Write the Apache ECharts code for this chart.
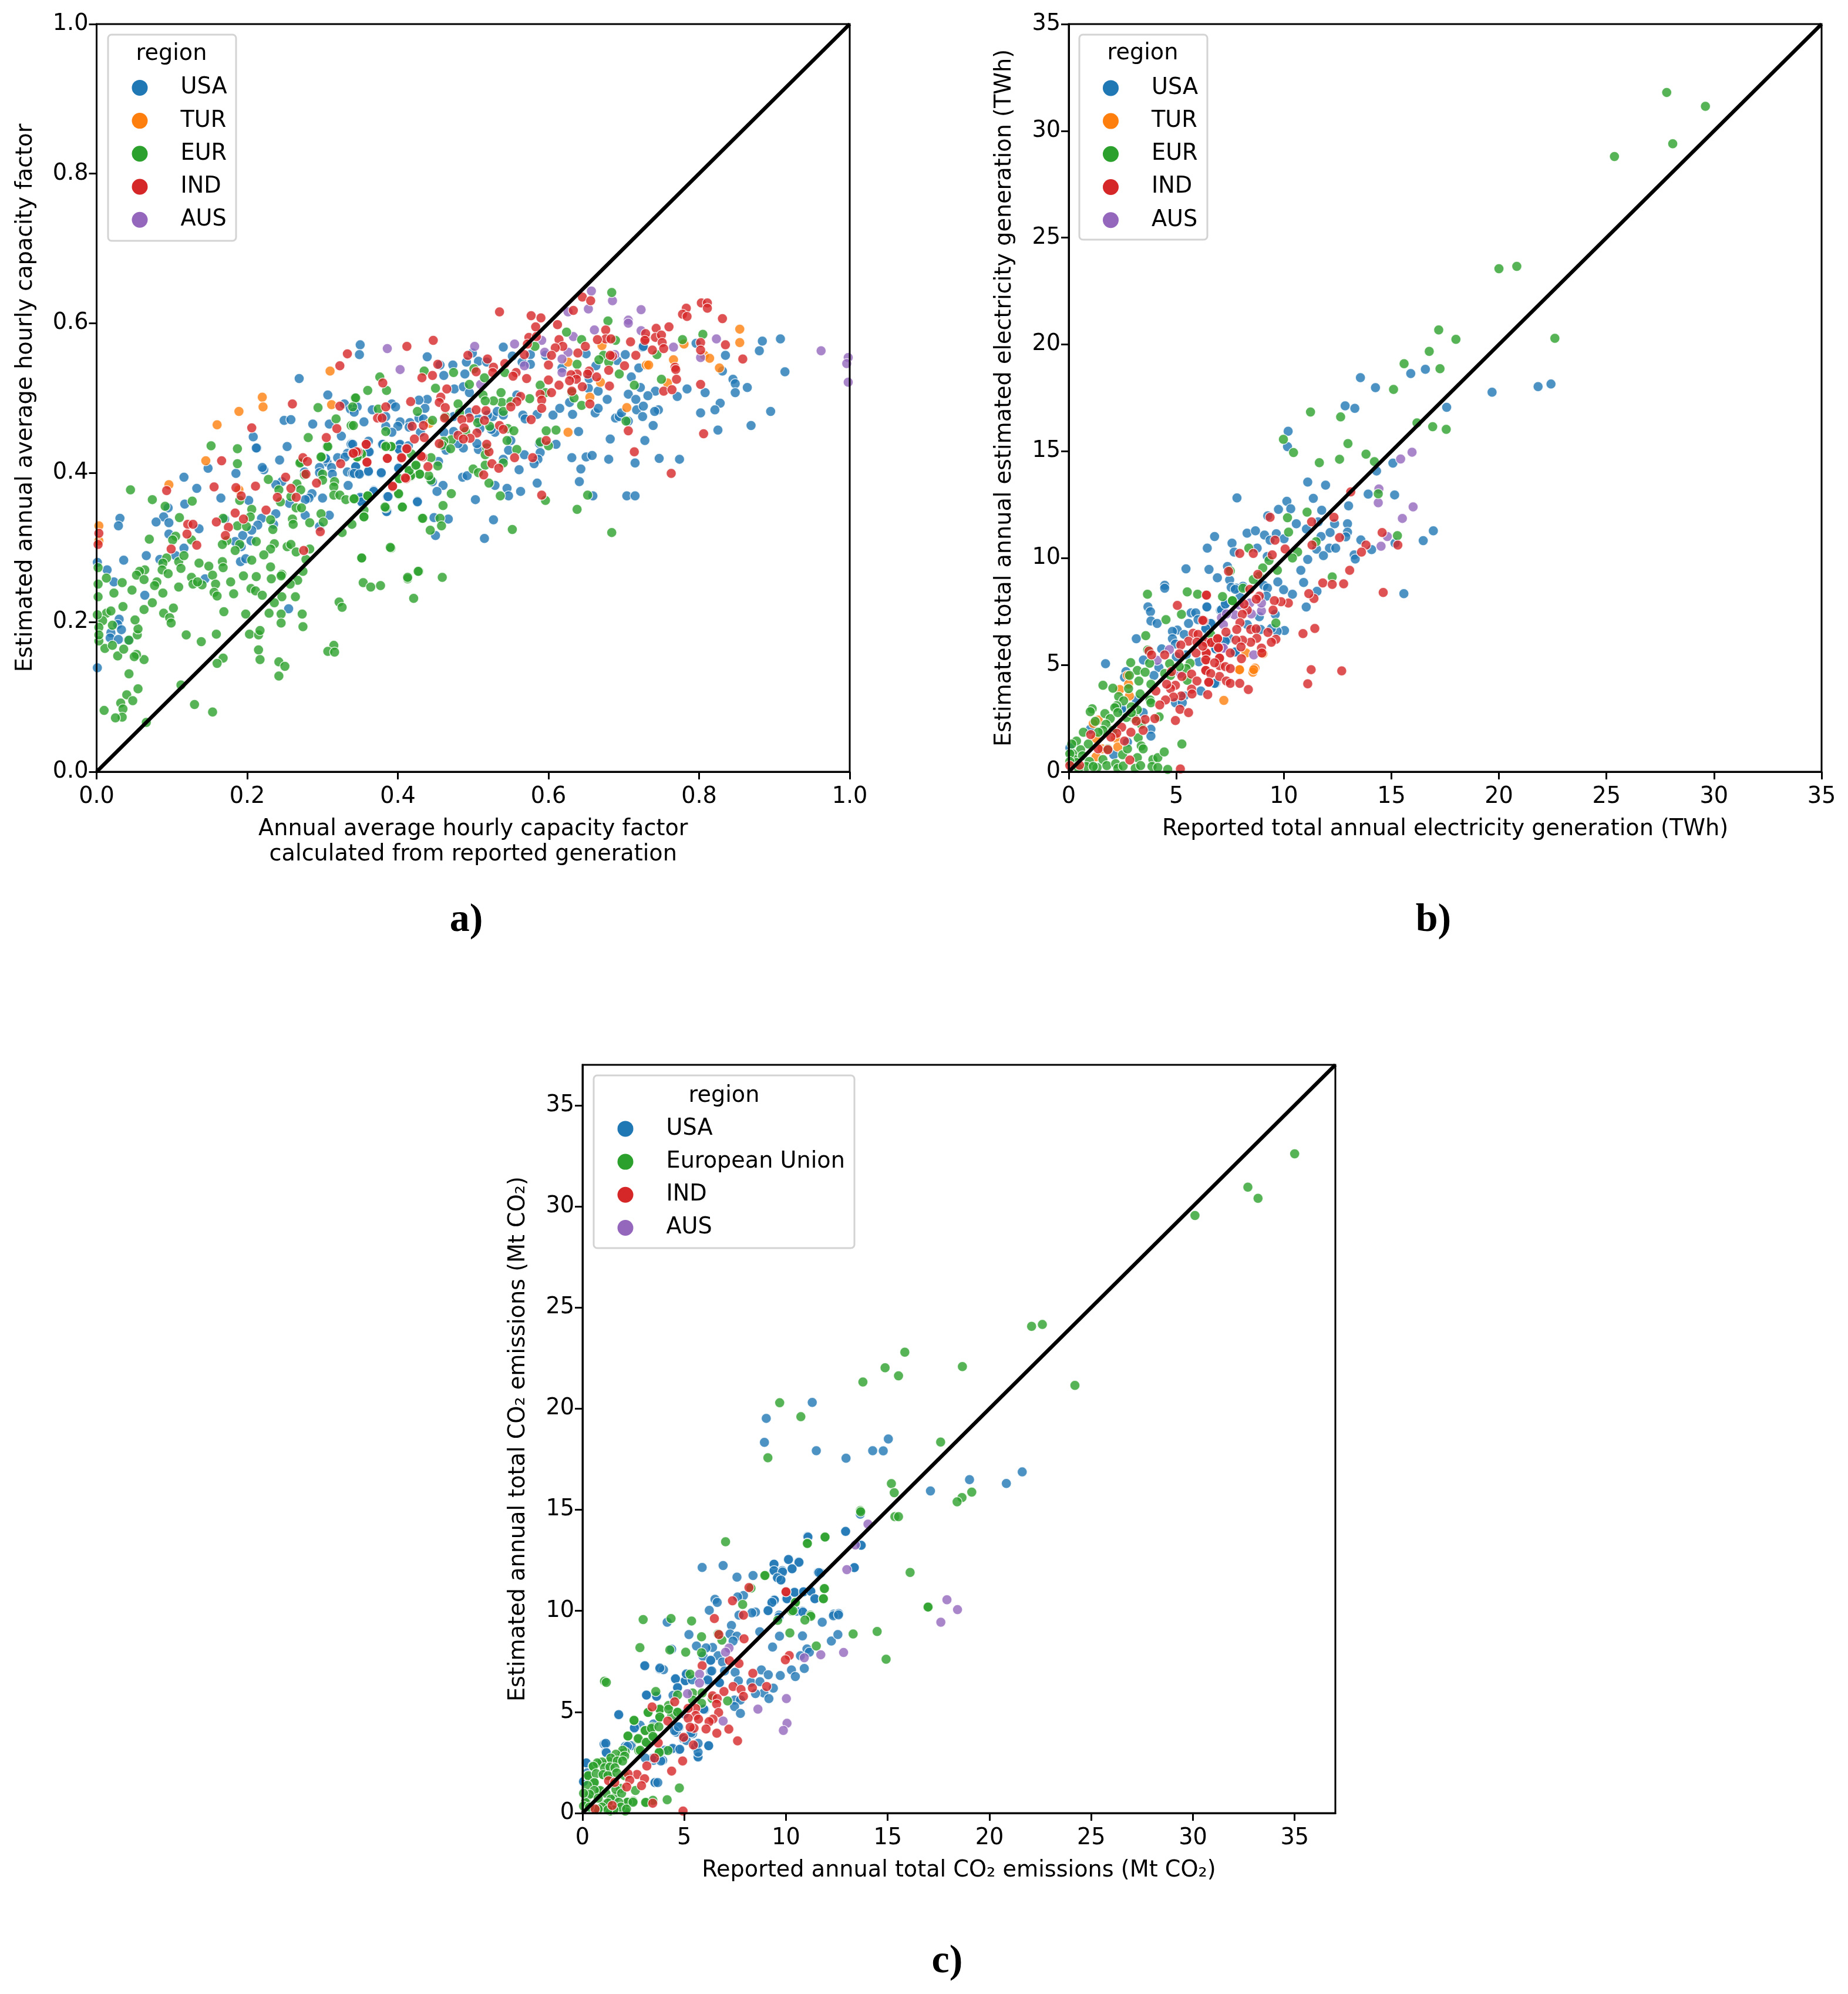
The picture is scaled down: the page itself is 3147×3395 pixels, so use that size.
<!DOCTYPE html>
<html><head><meta charset="utf-8">
<style>html,body{margin:0;padding:0;background:#fff}#c{width:3147px;height:3395px}</style>
<script src="https://cdn.jsdelivr.net/npm/echarts@6/dist/echarts.min.js"></script>
</head><body><div id="c"></div>
<script>
const regionsAB=['USA','TUR','EUR','IND','AUS'];
const regionsC=['USA','European Union','IND','AUS'];
const ticksA=[0,0.2,0.4,0.6,0.8,1.0];
const ticksB=[0,5,10,15,20,25,30,35];
const ticksC=[0,5,10,15,20,25,30,35];
const diagA=[[0,0],[1,1]];
const diagB=[[0,0],[35,35]];
const diagC=[[0,0],[37,37]];
const aUSA=[[.213,.433],[.253,.435],[.338,.439],[.243,.417],[.148,.406],[.185,.399],[.222,.404],[.116,.394],[.133,.379],[.165,.366],[.202,.363],[.117,.358],[.095,.353],[.089,.341],[.031,.339],[.029,.329],[.079,.334],[.096,.333],[.136,.325],[.096,.318],[.17,.338],[.238,.345],[.219,.339],[.214,.33],[.206,.323],[.235,.331],[.194,.316],[.184,.308],[.205,.309],[.192,.301],[.246,.388],[.238,.384],[.256,.359],[.277,.343],[.286,.372],[.282,.366],[.277,.364],[.3,.366],[.309,.343],[.296,.328],[.305,.418],[.306,.414],[.296,.407],[.312,.407],[.32,.42],[.313,.398],[.296,.4],[.276,.401],[.333,.401],[.344,.408],[.34,.399],[.348,.399],[.361,.401],[.378,.399],[.334,.383],[.333,.426],[.361,.428],[.379,.438],[.402,.437],[.401,.432],[.351,.365],[.352,.36],[.368,.376],[.386,.368],[.426,.362],[.386,.348],[.401,.407],[.116,.299],[.105,.289],[.066,.289],[.036,.283],[.084,.284],[.014,.27],[.001,.28],[.023,.254],[.144,.258],[.191,.281],[.198,.285],[.064,.236],[.255,.218],[.03,.204],[.028,.197],[.033,.19],[.019,.186],[.018,.179],[.029,.177],[.042,.176],[.001,.139],
[.269,.526],[.307,.504],[.208,.448],[.212,.433],[.249,.47],[.258,.471],[.287,.465],[.309,.465],[.325,.449],[.329,.492],[.337,.485],[.338,.438],[.33,.421],[.304,.419],[.22,.407],
[.35,.571],[.349,.558],[.439,.555],[.54,.568],[.499,.56],[.491,.548],[.507,.549],[.518,.548],[.473,.544],[.461,.53],[.489,.532],[.456,.544],[.552,.556],[.576,.558],[.565,.548],[.576,.545],[.475,.512],[.487,.515],[.495,.507],[.439,.498],[.428,.497],[.436,.486],[.392,.492],[.366,.484],[.397,.488],[.346,.488],[.342,.481],[.355,.468],[.384,.475],[.403,.468],[.4,.462],[.416,.467],[.415,.461],[.428,.473],[.434,.472],[.384,.462],[.392,.454],[.43,.454],[.361,.442],[.362,.428],[.38,.438],[.403,.438],[.414,.436],[.402,.431],[.34,.438],[.344,.408],[.342,.399],[.349,.398],[.361,.402],[.378,.4],[.454,.415],[.401,.406],[.368,.375],[.35,.367],[.352,.361],[.387,.368],[.426,.361],[.385,.348],[.446,.388],[.46,.383],[.452,.375],[.448,.34],[.467,.338],[.45,.316],[.527,.337],[.503,.364],[.515,.312],[.529,.383],[.545,.379],[.547,.369],[.563,.375],[.585,.386],[.641,.388],[.659,.369],[.704,.369],[.715,.369],[.486,.394],[.492,.396],[.561,.404],[.643,.405],[.631,.42],[.65,.421],[.658,.423],[.68,.418],[.715,.413],[.728,.443],[.682,.445],[.64,.455],[.61,.438],[.588,.439],[.589,.427],[.586,.418],[.581,.412],[.568,.424],[.54,.418],[.547,.43],[.55,.443],[.507,.431],[.487,.433],[.505,.439],[.48,.439],[.464,.43],[.474,.455],[.461,.454],[.509,.459],[.529,.454],[.524,.458],[.507,.472],[.526,.475],[.519,.477],[.532,.482],[.54,.477],[.495,.481],[.474,.475],[.566,.477],[.569,.472],[.585,.478],[.606,.477],[.615,.486],[.632,.478],[.628,.494],[.662,.48],[.666,.486],[.689,.473],[.694,.475],[.697,.48],[.706,.469],[.706,.505],[.716,.498],[.717,.484],[.725,.475],[.726,.489],[.678,.498],[.666,.509],[.653,.513],[.654,.526],[.663,.543],[.71,.528],[.722,.514],[.72,.54],[.702,.558],[.691,.55],[.725,.568],[.65,.559],[.596,.557],[.618,.54],[.558,.504],
[.796,.573],[.835,.557],[.88,.563],[.884,.576],[.908,.579],[.914,.535],[.845,.525],[.848,.519],[.864,.514],[.848,.507],[.784,.512],[.808,.507],[.771,.502],[.828,.493],[.821,.484],[.802,.48],[.895,.482],[.869,.463],[.825,.457],[.742,.509],[.732,.503],[.746,.484],[.741,.482],[.739,.463],[.747,.419],[.774,.418],[.726,.569],[.831,.536]];
const aTUR=[[.145,.416],[.096,.384],[.189,.377],[.003,.329],[.003,.309],[.16,.464],[.189,.482],[.22,.501],[.221,.488],[.31,.536],[.312,.491],[.671,.57],[.626,.548],[.669,.521],[.655,.501],[.704,.487],[.626,.454],[.442,.466],[.73,.544],[.733,.544],[.766,.551],[.78,.572],[.758,.52],[.807,.557],[.814,.553],[.827,.54],[.854,.592],[.854,.574]];
const aEUR=[[.152,.436],[.187,.432],[.187,.412],[.045,.377],[.074,.364],[.127,.362],[.091,.355],[.11,.34],[.07,.311],[.105,.315],[.101,.31],[.126,.31],[.168,.339],[.187,.329],[.199,.328],[.206,.351],[.204,.341],[.19,.363],[.173,.309],[.167,.304],[.19,.304],[.184,.296],[.212,.308],[.228,.391],[.242,.377],[.244,.361],[.231,.337],[.234,.324],[.26,.338],[.261,.331],[.236,.305],[.231,.298],[.222,.29],[.253,.301],[.258,.304],[.265,.294],[.283,.298],[.278,.284],[.258,.368],[.266,.385],[.271,.377],[.265,.353],[.272,.353],[.271,.414],[.276,.397],[.299,.421],[.306,.435],[.3,.398],[.3,.39],[.316,.388],[.315,.381],[.315,.37],[.323,.37],[.331,.364],[.341,.365],[.36,.369],[.283,.333],[.298,.345],[.301,.334],[.339,.331],[.355,.35],[.355,.341],[.326,.32],[.391,.435],[.384,.436],[.351,.426],[.347,.421],[.384,.353],[.401,.371],[.406,.354],[.432,.339],[.391,.299],[.352,.286],[.415,.402],[.424,.409],[.429,.398],[.402,.392],[.417,.395],
[.136,.279],[.149,.275],[.167,.281],[.168,.273],[.093,.286],[.088,.279],[.109,.281],[.112,.272],[.116,.289],[.087,.27],[.095,.265],[.064,.27],[.057,.268],[.053,.263],[.063,.257],[.013,.259],[.034,.253],[.08,.254],[.077,.249],[.047,.243],[.023,.239],[.088,.239],[.109,.247],[.126,.26],[.128,.251],[.14,.25],[.134,.254],[.154,.263],[.158,.251],[.156,.24],[.16,.235],[.178,.254],[.195,.262],[.182,.238],[.212,.261],[.232,.258],[.206,.283],[.231,.274],[.246,.264],[.245,.262],[.205,.245],[.211,.242],[.22,.236],[.274,.268],[.267,.256],[.257,.251],[.246,.234],[.264,.234],[.236,.226],[.229,.212],[.245,.211],[.198,.211],[.169,.214],[.273,.211],[.245,.199],[.274,.194],[.354,.253],[.364,.247],[.377,.249],[.413,.258],[.428,.268],[.421,.232],[.322,.227],[.326,.22],[.315,.169],[.307,.161],[.316,.16],[.242,.147],[.25,.141],[.242,.128],[.215,.163],[.217,.15],[.203,.184],[.215,.183],[.217,.189],[.159,.184],[.119,.183],[.139,.174],[.168,.152],[.16,.145],[.112,.116],[.13,.09],[.154,.08],[.066,.066],[.055,.111],[.04,.103],[.048,.095],[.032,.092],[.035,.084],[.034,.073],[.025,.072],[.01,.082],[.043,.131],[.063,.15],[.053,.157],[.05,.154],[.028,.155],[.036,.164],[.011,.165],[.021,.169],[.043,.176],[.054,.183],[.055,.191],[.051,.203],[.063,.217],[.074,.226],[.089,.212],[.102,.219],[.097,.206],[.099,.199],[.035,.221],[.013,.212],[.019,.215],[.008,.202],[.021,.196],[.003,.193],[.001,.21],[.002,.234],[.002,.251],[.002,.273],[.003,.175],[.003,.183],
[.281,.447],[.294,.487],[.307,.435],[.298,.421],[.318,.472],[.338,.463],[.343,.5],[.27,.413],
[.684,.641],[.679,.603],[.624,.588],[.644,.578],[.689,.577],[.582,.569],[.673,.557],[.667,.551],[.68,.548],[.638,.545],[.694,.532],[.714,.517],[.589,.517],[.596,.507],[.631,.507],[.634,.5],[.644,.49],[.575,.499],[.537,.507],[.538,.494],[.527,.496],[.55,.495],[.54,.482],[.703,.469],[.61,.457],[.597,.456],[.589,.441],[.6,.436],[.558,.431],[.546,.459],[.554,.456],[.545,.443],[.522,.462],[.506,.467],[.49,.455],[.471,.444],[.461,.442],[.459,.437],[.47,.432],[.518,.433],[.516,.424],[.516,.41],[.54,.413],[.5,.405],[.507,.4],[.521,.386],[.536,.369],[.471,.372],[.46,.356],[.652,.37],[.596,.363],[.638,.351],[.456,.339],[.458,.329],[.443,.323],[.433,.339],[.552,.324],[.684,.32],[.39,.3],[.352,.286],[.427,.268],[.413,.26],[.459,.26],[.406,.354],[.383,.354],[.355,.341],[.401,.372],[.36,.369],[.342,.365],[.444,.39],[.441,.396],[.429,.398],[.417,.396],[.402,.392],[.415,.403],[.424,.41],[.453,.409],[.444,.42],[.418,.425],[.391,.435],[.384,.435],[.352,.425],[.346,.421],[.384,.455],[.446,.47],[.463,.475],[.501,.539],[.474,.534],[.435,.536],[.45,.513],[.495,.518],[.515,.527],[.542,.534],[.376,.528],[.385,.51],[.36,.51],[.344,.5],[.34,.488],[.426,.482],[.374,.485],[.48,.492],[.482,.48],[.513,.504],[.516,.496],[.341,.463],
[.778,.578],[.805,.585],[.744,.558],[.75,.525]];
const aIND=[[.166,.416],[.093,.376],[.156,.381],[.211,.382],[.185,.38],[.192,.369],[.274,.42],[.28,.415],[.251,.394],[.258,.379],[.292,.386],[.278,.398],[.24,.367],[.265,.367],[.324,.412],[.34,.426],[.347,.428],[.358,.438],[.359,.414],[.386,.419],[.405,.419],[.411,.432],[.433,.421],[.411,.392],[.393,.381],[.225,.35],[.184,.346],[.195,.338],[.159,.334],[.175,.327],[.171,.316],[.121,.331],[.128,.331],[.12,.318],[.133,.303],[.099,.298],[.297,.321],[.275,.296],[.003,.319],[.002,.304],
[.206,.46],[.26,.492],[.305,.447],[.319,.459],[.323,.543],[.333,.559],[.323,.489],
[.535,.615],[.577,.61],[.59,.607],[.583,.595],[.612,.598],[.574,.581],[.584,.582],[.572,.572],[.568,.558],[.645,.635],[.656,.63],[.633,.617],[.447,.577],[.412,.569],[.493,.557],[.519,.552],[.453,.545],[.504,.535],[.446,.53],[.432,.527],[.527,.541],[.542,.546],[.526,.534],[.557,.534],[.553,.529],[.571,.526],[.614,.578],[.619,.569],[.609,.567],[.649,.569],[.604,.557],[.639,.56],[.6,.544],[.6,.524],[.614,.517],[.638,.532],[.63,.531],[.637,.525],[.628,.523],[.654,.536],[.652,.532],[.664,.528],[.645,.515],[.681,.516],[.68,.537],[.701,.543],[.716,.557],[.709,.575],[.729,.579],[.676,.591],[.676,.579],[.683,.579],[.665,.578],[.685,.556],[.682,.557],[.589,.505],[.604,.507],[.591,.497],[.591,.486],[.631,.509],[.655,.492],[.563,.502],[.558,.495],[.55,.488],[.465,.512],[.457,.501],[.455,.494],[.463,.487],[.417,.495],[.384,.488],[.38,.52],[.373,.473],[.379,.473],[.419,.462],[.434,.463],[.435,.447],[.422,.445],[.462,.473],[.504,.484],[.517,.483],[.495,.473],[.485,.471],[.515,.47],[.535,.463],[.488,.46],[.505,.453],[.48,.45],[.496,.446],[.487,.445],[.455,.439],[.54,.458],[.577,.471],[.597,.443],[.579,.42],[.555,.42],[.358,.438],[.345,.428],[.341,.426],[.359,.414],[.386,.419],[.405,.42],[.412,.432],[.431,.422],[.44,.408],[.41,.393],[.393,.382],[.521,.428],[.518,.438],[.525,.412],[.534,.406],[.514,.397],[.591,.37],[.714,.428],[.706,.456],
[.783,.62],[.778,.612],[.784,.609],[.803,.627],[.811,.627],[.811,.62],[.831,.606],[.835,.571],[.858,.552],[.802,.574],[.802,.564],[.743,.593],[.76,.595],[.729,.586],[.728,.577],[.742,.581],[.75,.584],[.738,.564],[.751,.574],[.753,.566],[.768,.541],[.769,.538],[.77,.525],[.753,.509],[.764,.511],[.802,.518],[.806,.452],[.763,.399]];
const aAUS=[[.657,.643],[.685,.63],[.653,.619],[.626,.615],[.723,.618],[.706,.604],[.706,.6],[.661,.591],[.633,.582],[.723,.59],[.591,.577],[.555,.572],[.502,.569],[.386,.566],[.403,.538],[.51,.518],[.595,.561],[.626,.561],[.618,.552],[.618,.534],[.568,.543],[.688,.558],[.962,.563],[.998,.554],[.996,.546],[.998,.521],[.766,.568],[.823,.579],[.802,.554]];

const bUSA=[[16.58,18.84],[15.9,18.64],[13.56,18.45],[14.26,17.98],[19.68,17.77],[21.82,18.03],[22.42,18.15],[12.85,17.13],[13.3,17.01],[17.57,17.06],[10.2,15.94],[10.17,15.22],[15.07,14.45],[14.31,14.08],[11.11,13.56],[11.94,13.42],[7.82,12.82],[11.37,12.8],[10.14,12.66],[13.92,13],[15.15,12.96],[13.01,12.45],[9.75,12.28],[10.32,12.31],[11.76,12.24],[9.25,11.98],[10.58,11.61],[11.6,11.7],[11.05,11.36],[12.36,11.61],[12.96,11.61],[12.96,11.22],[16.95,11.28],[16.48,10.82],[6.78,11.01],[8.29,11.17],[8.68,11.28],[9.1,11.08],[9.36,10.84],[9.65,11.14],[10.01,10.91],[11.73,11.01],[12.15,11.2],[12.88,11],[13.58,10.85],[15.17,10.7],[7.59,10.7],[6.44,10.47],[8.76,10.47],[7.69,10.28],[9.23,10.08],[12.12,10.47],[12.41,10.47],[11.52,10.42],[11.84,10.12],[13.27,10.15],[13.32,9.96],[14.08,10.4],[11.11,9.94],[5.45,9.5],[6.52,9.47],[10.79,9.43],[7.38,9.61],[6.91,9.08],[7.48,8.98],[9.72,8.89],[10.92,8.86],[4.46,8.73],
[15.58,8.34],[11.54,8.45],[10.4,8.31],[9.99,8.52],[11.04,7.71],[9.07,8.72],[9.24,8.6],[8.1,8.68],[7.78,8.6],[7.55,8.63],[7.96,8.17],[7.3,7.88],[7.05,7.56],[6.43,7.7],[10.03,6.61],[9.69,6.57],[9.42,6.71],[9.19,8.22],[8.86,7.26],[9.6,7.37],[8.92,6.66],[8.3,6.89],[7.28,6.14],[6.83,5.77],[7.72,5.59],[6.83,4.14],[6.64,6.94],[6.37,6.66],[7.46,6.25],
[4.46,8.59],[3.68,7.72],[3.8,7.49],[6.42,7.72],[3.82,7.06],[4.11,6.94],[3.14,6.23],[5.69,7.44],[5.9,7.44],[5.57,6.94],[6.01,7.12],[6.6,6.94],[5.05,6.63],[4.82,6.57],[5.37,6.43],[4.82,6.23],[4.96,5.98],[6.37,6.71],[7.1,7.58],[7.28,7.85],[7.74,8.54],[7.28,6.11],[6.83,5.75],[4.32,5.75],[5,5.38],[3.47,5.23],[1.71,5.06],[4.19,4.88],[3.96,4.51],[2.66,4.69],[2.59,4.42],[6.05,5.15],[6.14,3.78],[6.78,4.14],[5.37,3.55],[4.96,3.23],[5.28,3.23],[3.82,1.99],[3.82,1.67],[3.14,3.36],[3.46,2.77],[2.55,2.81],[2.73,1.39],[1,1.99],[.05,1.12],[2.09,.8],[2.46,2.95],[5.46,5.47],[7.74,5.61]];
const bTUR=[[8.24,5.56],[9.03,5.53],[7.95,4.77],[8.66,4.85],[8.56,4.66],[7.94,4.78],[8.6,4.78],[7.21,3.34],[1.37,2.42],[1.14,2.26],[1.26,1.56],[2.18,1.58],[2.28,1.16],[1.55,1.07],[1.27,.7],[2.73,4.51],[2.78,4.1],[2.37,3.85],[2.82,3.55]];
const bEUR=[[27.8,31.8],[29.6,31.15],[28.08,29.4],[25.37,28.8],[20,23.55],[20.83,23.66],[17.2,20.68],[18,20.24],[22.6,20.29],[16.76,19.68],[15.59,19.1],[17.26,18.87],[15.1,17.9],[11.24,16.84],[12.64,16.61],[16.19,16.33],[16.92,16.15],[17.55,16.03],[9.98,15.56],[10.45,14.94],[12.98,15.36],[13.82,14.87],[14.21,14.52],[12.59,14.63],[11.65,14.47],[14.39,13.01],[11.08,12.15],[10.17,11.89],[10.22,11.22],[11.5,10.77],[15.28,11.05],[10.64,10.29],[8.37,10.47],[9.31,9.89],[10.4,10.01],[9.7,9.43],[9.02,9.54],[7.51,9.4],[8.86,9.15],[8.58,9],[12.25,9.12],[9.63,6.96],[7.6,8.01],[7.15,8.2],[6.6,6.43],[8.1,8.59],
[3.66,8.31],[5.51,8.42],[5.99,8.31],[7.61,8.01],[5.24,7.37],[4.52,7.12],[3.58,6.37],[3.67,5.7],[2.88,5.11],[3.76,5.08],[4.69,5.06],[5.64,5.08],[3.19,4.74],[3.55,4.66],[3.26,4.25],[2.82,4.51],[3.82,4.1],[1.59,4.05],[2.05,3.91],[2.78,3.89],[2.32,3.52],[2.55,3.32],[2.23,3.09],[2.14,3],[3.32,3.64],[3.78,3.36],[3.82,3.23],[3.19,2.9],[2.91,3.04],[4.46,4.6],[4.73,4.51],[5.51,4.28],[5.46,4.83],[5.14,4.92],[1.09,2.95],[1,2.81],[1.68,2.72],[1.93,2.49],[1.23,2.36],[1.73,2.22],[1.59,1.94],[3.05,2.49],[2.68,2.54],[3.37,2.22],[4.2,2.57],[.68,1.85],[.36,1.44],[.91,1.3],[.55,1.03],[.18,.84],[.27,.57],[.05,.84],[.64,.75],[.96,.48],[1.59,.57],[.82,.25],[1.32,.2],[1.77,.29],[2.18,.38],[2.28,.16],[2.53,.27],[2.5,.8],[2.73,1.07],[3.23,1.59],[3.37,1.21],[3.46,1.07],[3.19,.66],[3.09,.16],[3.34,.29],[3.91,.57],[4.14,.66],[4.44,.93],[3.87,.25],[4.14,.2],[5.26,1.3],[4.6,.11],[1.82,1.07],[1.37,1.85],[.36,.43],[.14,1.3],[.05,.48],[.46,.16],[1.14,.25],[2.05,1.94],[2.91,2.77],[2.28,2.77]];
const bIND=[[13.11,13.1],[12.33,11.91],[9.36,11.91],[11.29,11.7],[14.57,11.2],[12.59,10.96],[9.59,10.84],[11.31,10.61],[13.82,10.61],[15.3,10.61],[10.06,10.43],[13.61,10.28],[7.95,10.22],[8.58,10.22],[9.46,10.15],[13.06,9.43],[7.43,9.38],[8.79,9.24],[11.81,8.84],[12.25,8.77],[12.78,8.8],
[14.62,8.39],[11.4,8.11],[11.16,8.34],[10.21,7.9],[9.87,7.96],[9.56,8.01],[8.86,8.22],[8.72,8.08],[9.5,7.57],[8.42,8.54],[8.3,7.57],[8.15,7.85],[8.07,7.37],[11.44,6.71],[10.89,6.47],[7.96,6.98],[7.31,6.54],[7.81,6.66],[8.46,6.66],[8.71,6.69],[9.26,6.52],[9.63,6.2],[9.42,6.06],[8.74,6.25],[8.46,6.06],[8.08,6.16],[7.78,6.16],[8.96,5.79],[8.01,5.84],[7.51,5.56],[6.96,5.79],[6.64,6.06],[6.92,6.25],[6.37,6.06],[6.42,5.56],[6.42,5.24],[7.01,5.31],[8.03,5.29],[7.01,4.97],[7.28,4.92],[7.51,4.83],[6.37,4.74],[7.01,4.46],[7.33,4.25],[7.51,4.14],[7.95,4.14],[8.35,3.85],[6.51,4.19],[8.98,5.56],[6.28,7.07],[11.27,4.78],[12.69,4.72],[11.11,4.12],[6.42,8.26],
[6.4,8.27],[5.05,7.79],[6.23,7.09],[5.78,6.48],[6.01,6.43],[5.57,6.11],[5.21,5.93],[5.96,6.07],[6.62,6.05],[6.92,6.23],[5.14,5.52],[5.92,5.56],[6.96,5.81],[6.39,5.56],[6.23,5.88],[3.73,5.65],[3.85,5.47],[4.46,5.47],[7.01,5.32],[6.37,5.24],[6.78,5.1],[6.37,4.74],[6.6,4.6],[5.71,4.57],[5.26,4.46],[5.96,4.25],[6.51,4.19],[4.96,4.05],[4.73,3.89],[4.55,4.1],[5.71,3.87],[5.73,3.64],[6.46,3.61],[5.23,3.55],[4.87,3.5],[4.5,3.36],[4.05,3.78],[4.23,3.13],[5.17,2.92],[5.57,2.77],[4.96,2.4],[4,2.49],[3.55,2.45],[3.14,2.37],[2.46,2.08],[2.23,1.8],[2.89,1.85],[2.59,1.44],[1.96,1.62],[1.02,1.74],[1.37,1.07],[1.82,1.03],[2.84,.55],[.5,.31],[5.19,.13],[.05,.29],[3.46,1.94],[4.78,4.69]];
const bAUS=[[15.96,14.96],[15.43,14.64],[14.42,13.24],[14.39,12.59],[16.01,12.4],[15.51,11.86],[14.81,11.01],[14.52,10.56],[8.96,7.53],[8.42,7.9],[8.96,7.9],[8.49,7.39],[7.71,7.35],[7.1,7.21],[7.19,6.89],[7.33,7.39],[8.6,5.47],[7.14,5.79],[7.92,7.81],[4.68,5.72],[4.11,5.22],[5.19,4.6],[7.19,5.79]];

const cUSA=[[11.29,20.31],[9.03,19.52],[8.94,18.33],[15.03,18.5],[11.49,17.92],[14.26,17.92],[14.78,17.91],[12.95,17.55],[21.61,16.87],[20.83,16.3],[19.02,16.49],[17.1,15.93],[13.65,14.78],[11.06,13.68],[12.93,13.91],[13.68,13.25],[13.35,12.14],[10.14,12.55],[10.62,12.42],[9.42,12.31],[10.3,12.09],[9.42,12],[9.82,11.99],[11.58,11.9],[11.71,11.87],[9.56,11.65],[9.76,11.51],[10.41,10.9],[10.86,10.95],[11.23,10.95],[10.02,10.59],[11.41,10.61],[9.42,10.56],[9.29,10.4],[9.1,10.02],[10.81,9.98],[10.52,9.98],[12.35,9.84],[12.59,9.87],[9.66,9.79],
[11.08,13.65],[12.93,13.93],[13.7,13.24],[5.88,12.15],[6.91,12.24],[7.59,11.67],[8.38,11.75],[9.41,12.31],[10.12,12.54],[10.64,12.4],[9.41,11.99],[9.83,11.92],[10.3,12.08],[11.62,11.89],[13.36,12.14],[9.58,11.64],[9.75,11.53],[7.91,10.76],[7.62,10.69],[6.51,10.57],[6.62,10.42],[9.43,10.53],[9.31,10.42],[10.42,10.92],[10.86,10.94],[11.22,10.97],[11.42,10.6],[10.05,10.6],[6.23,10.03],[8.5,9.94],[9.12,10.01],[10.83,9.94],[7.69,9.79],[8.32,9.9],[12.33,9.76],[12.58,9.8],[11.78,9.44],[9.65,9.69],[4.16,9.44],[7.32,9.28],[5.23,8.83],[8.71,8.97],[7.25,8.86],[7.59,8.75],[9.68,8.75],[10.81,8.76],[12.23,8.51],[12.55,8.83],[7.4,8.51],[9.34,8.21],[5.6,8.26],[6.39,8.19],[6.07,8.17],[11.03,8.12],[4.38,8.1],[6.66,7.78],[6.29,7.54],[10.71,7.78],[11.15,7.96],[6.88,7.47],[3.05,7.27],[3.79,7.12],[3.98,7.09],[10.27,7.08],[10.9,7.15],[8.79,7.08],[6.29,7.01],[7.5,6.96],[5.11,6.84],[9.13,6.84],[6.98,7.03],[9.72,6.8],[10.46,6.75],[4.55,6.64],[5.04,6.54],[6.14,6.54],[7.66,6.54],[6.73,6.46],[8.28,6.47],[8.72,6.5],[4.67,6.18],[9.38,6.18],[8.91,5.94],[8.5,5.91],[3.16,5.83],[3.64,5.8],[9.16,5.66],[7.47,5.59],[7.76,5.59],[6,5.11],[7.47,5.27],[7.76,4.93],[1.77,4.84],[2.54,4.18],[2.83,4.34],[3.49,4.41],[4.75,4.25],[4.6,4],[5.41,3.93],[4.97,3.65],[6.2,3.33],[2.39,3.33],[4.75,3.13],[5.56,3.26],[5.66,2.81],[4.38,3.16],[3.94,2.61],[3.49,2.61],[1.17,3.44],[1.06,3.41],[1.14,3.02],[.18,2.47],[3.57,1.52],[.03,1.56],[2.1,3.3],
[.19,2.48],[1.14,3.45],[1.17,2.99],[.05,1.56],[.24,2],[3.56,1.51],[3.7,1.51],[2.21,3.3],[2.55,4.22],[3.06,7.29],[3.8,7.17],[1.78,4.87],[3.14,5.84],[3.64,5.77],[4.04,3.11],[4.43,3.2],[4.78,3.16],[4.95,3.69],[6.2,3.33],[5.68,2.77],[5.68,3.01],[5.68,3.45],[5.1,3.59],[4.52,4.08],[4.71,4.27],[5.34,3.98],[5,4.9],[5.96,5.14],[3.46,2.72],[3.85,2.58],[3.08,2.72],[4.57,6.64],[5.05,6.55],[4.67,6.21],[4.45,5.82],[5.1,6.88],[5.39,6.59],[6.16,6.59],[6.35,7.03],[6.73,6.45],[5.92,7.76],[6.3,7.56]];
const cEUR=[[22.07,24.07],[22.6,24.16],[15.84,22.79],[14.87,22.02],[18.67,22.08],[15.53,21.62],[13.78,21.32],[9.69,20.29],[10.73,19.6],[17.6,18.35],[9.11,17.57],[15.18,16.29],[15.32,15.84],[19.13,15.87],[18.65,15.6],[18.41,15.39],[13.65,14.96],[13.67,14.9],[15.35,14.66],[15.53,14.66],[11.91,13.66],[11.05,13.35],[16.1,11.9],[11.87,11.11],[11.83,10.6],[10.48,10.42],[17,10.2],[8.99,11.76],[10.28,9.98],[11.2,9.79],[35,32.6],[33.2,30.4],[32.7,30.95],[30.1,29.55],[24.2,21.15],
[11.92,13.65],[7.03,13.42],[11.05,13.33],[8.96,11.75],[8.28,11.12],[11.89,11.1],[11.84,10.6],[7.87,10.32],[10.46,10.42],[10.34,10.01],[2.98,9.57],[4.35,9.62],[5.36,9.5],[11.22,9.73],[10.93,9.55],[16.98,10.19],[9.59,9.53],[5.85,8.72],[6.66,8.86],[6.85,8.55],[10.19,8.91],[13.3,8.86],[14.48,8.98],[11.49,8.26],[14.92,7.61],[2.82,8.18],[4.29,8.07],[5.07,7.96],[5.85,7.93],[1.08,6.52],[1.17,6.46],[5.29,6.87],[3.6,6.01],[7.13,5.55],[4.67,5.84],[5.41,5.94],[5.88,5.94],[6.37,5.66],[5.85,5.43],[5.41,5.59],[4.23,5.32],[3.79,5.11],[3.24,4.97],[3.79,4.76],[4.67,4.97],[4.38,4.83],[2.54,4.58],[2.24,3.81],[2.71,3.65],[3.42,4.25],[3.05,4.09],[3.13,3.51],[3.49,3.79],[3.76,3.02],[4.2,3.09],[2.76,3.09],[2.1,3.02],[1.95,2.95],[1.73,2.61],[1.29,2.54],[.84,2.47],[.51,2.33],[.99,1.91],[.25,1.84],[.55,1.52],[1.36,1.84],[.84,1.08],[.4,.94],[.18,.59],[1.87,1.22],[2.17,.52],[2.49,.59],[3.13,.52],[3.46,.63],[4.16,.66],[4.76,1.24],[1.61,.8],[1.06,.45],[1.65,.17],[.7,.17],[1.36,.1],[2.1,.1],
[1.97,3.11],[1.64,2.91],[2.07,2.82],[1.39,2.72],[1.71,2.58],[1.97,2.58],[.96,2.53],[.72,2.48],[.53,2.31],[1.08,2.24],[1.35,2.28],[1.59,2.24],[.29,1.85],[.67,1.95],[1.01,1.9],[.58,1.51],[1.25,1.85],[1.68,1.99],[2.07,1.85],[.24,1.37],[.87,1.12],[.58,1.12],[.34,.93],[1.15,.98],[1.64,1.17],[1.92,.98],[.14,.54],[.77,.74],[1.39,.69],[1.25,.5],[2.21,.54],[2.48,.54],[1.78,.54],[.96,.3],[1.88,.3],[2.16,.2],[1.54,.16],[1.25,.16],[.77,.2],[2.6,1.12],[.05,.98],[.05,.35],[.34,.3],[3.1,.53],[3.8,5.14],[3.8,4.75],[4.23,5.14],[4.67,4.99],[2.53,4.59],[2.23,3.81],[3.08,4.08],[3.39,4.19],[2.74,3.69],[3.13,3.5],[3.46,3.79],[3.77,3],[2.84,3.11],[3.22,4.98],[3.75,4.27]];
const cIND=[[10,10.95],[8.18,11.15],[10,10.94],[7.37,10.5],[7.91,9.79],[6.48,9.62],[6.7,8.83],[7.94,8.62],[10.16,7.79],[9.97,7.58],[5.88,7.29],[7.22,7.54],[7.69,7.4],[8.37,6.91],[7.4,6.26],[9.05,6.26],[8.35,6.19],[7.79,6.11],[6.95,6.01],[7.91,5.77],[6.39,5.8],[6.62,5.66],[6.59,5.39],[4.53,5.5],[3.42,5.25],[5.56,5.18],[5.19,5.18],[6.69,4.97],[5.56,4.83],[5.19,4.69],[5.7,4.65],[6.41,4.65],[6.22,4.52],[4.19,4.55],[5.48,4.2],[5.29,4.25],[6.07,4.16],[7.19,4.15],[6.6,3.95],[4.97,3.75],[5.45,3.37],[7.62,3.57],[4.92,2.58],[4.38,2.08],[3.54,2.72],[3.16,2.33],[2.68,1.91],[2.24,1.94],[3.05,1.7],[2.32,1.63],[2.9,1.36],[2.17,1.29],[1.28,1.6],[1.58,1.52],[3.45,.49],[1.46,.38],[.62,.2],[4.94,.1],[3.72,3.47]];
const cAUS=[[14.03,14.29],[13.41,13.26],[12.99,12.04],[17.91,10.55],[18.43,10.06],[17.61,9.44],[12.83,7.94],[11.71,7.83],[10.9,7.68],[7.2,8.16],[7.03,7.96],[5.75,6.87],[5.75,6.43],[5.16,5.9],[10.02,5.66],[8.62,5.14],[6.91,4.55],[10.05,4.44],[9.87,4.09]];

const palette={USA:'#1f77b4',TUR:'#ff7f0e',EUR:'#2ca02c','European Union':'#2ca02c',IND:'#d62728',AUS:'#9467bd'};
const FONT='DejaVu Sans';
const TICK=38.2;
const panels=[
 {l:164.5,t:41,w:1282.5,h:1273,max:1,ticks:ticksA,fmt:v=>v.toFixed(1),
  xn:'Annual average hourly capacity factor\ncalculated from reported generation',yn:'Estimated annual average hourly capacity factor',
  xg:77,yg:99,diag:diagA,order:[['USA',aUSA],['TUR',aTUR],['AUS',aAUS],['EUR',aEUR],['IND',aIND]],legend:regionsAB,
  box:[184,59,218,351],mx:238,ry:149.5,tx:292,ty:92,lab:'a)',lx:794,ly:1567},
 {l:1820,t:41,w:1282,h:1273,max:35,ticks:ticksB,fmt:v=>String(v),
  xn:'Reported total annual electricity generation (TWh)',yn:'Estimated total annual estimated electricity generation (TWh)',
  xg:77,yg:87,diag:diagB,order:[['USA',bUSA],['TUR',bTUR],['AUS',bAUS],['EUR',bEUR],['IND',bIND]],legend:regionsAB,
  box:[1838,59,218,349],mx:1891.5,ry:150,tx:1946,ty:91,lab:'b)',lx:2441,ly:1567},
 {l:992,t:1813,w:1282,h:1274,max:37,ticks:ticksC,fmt:v=>String(v),
  xn:'Reported annual total CO₂ emissions (Mt CO₂)',yn:'Estimated annual total CO₂ emissions (Mt CO₂)',
  xg:77,yg:87,diag:diagC,order:[['USA',cUSA],['European Union',cEUR],['IND',cIND],['AUS',cAUS]],legend:regionsC,
  box:[1011,1831,444,294],mx:1065,ry:1922,tx:1233,ty:1866,lab:'c)',lx:1613,ly:3340}
];
const option={animation:false,backgroundColor:'#fff',grid:[],xAxis:[],yAxis:[],series:[],legend:[],title:[],graphic:{elements:[]}};
panels.forEach((p,i)=>{
 option.grid.push({left:p.l,top:p.t,width:p.w,height:p.h,show:false,containLabel:false});
 const common={type:'value',min:0,max:p.max,gridIndex:i,z:6,splitLine:{show:false},
  axisLine:{show:true,onZero:false,lineStyle:{color:'#000',width:3}},
  axisTick:{show:true,length:13,customValues:p.ticks,lineStyle:{color:'#000',width:3}},
  axisLabel:{color:'#000',fontFamily:FONT,fontSize:TICK,margin:14,customValues:p.ticks,formatter:p.fmt,showMinLabel:true,showMaxLabel:true},
  nameLocation:'middle',nameTextStyle:{color:'#000',fontFamily:FONT,fontSize:TICK,lineHeight:43}};
 option.xAxis.push(Object.assign({},common,{name:p.xn,nameGap:p.xg,axisLabel:Object.assign({},common.axisLabel,{margin:24})}));
 option.yAxis.push(Object.assign({},common,{name:p.yn,nameGap:p.yg,nameRotate:90,axisLabel:Object.assign({},common.axisLabel,{padding:[4,0,0,0]})}));
 p.order.forEach(([name,data])=>{
  option.series.push({type:'scatter',name,xAxisIndex:i,yAxisIndex:i,data,symbol:'circle',symbolSize:17,clip:true,silent:true,z:2,
   itemStyle:{color:palette[name],opacity:0.8,borderColor:'#fff',borderWidth:1.5}});
 });
 option.series.push({type:'line',xAxisIndex:i,yAxisIndex:i,data:p.diag,symbol:'none',silent:true,z:3,lineStyle:{color:'#000',width:6.4}});
 option.legend.push({show:true,orient:'vertical',left:p.mx-13.5,top:p.ry-TICK/2,padding:0,data:p.legend.map(n=>({name:n})),icon:'circle',selectedMode:false,
  itemWidth:27,itemHeight:27,itemGap:56.4-TICK,z:8,itemStyle:{opacity:1,borderWidth:0},
  textStyle:{color:'#000',fontFamily:FONT,fontSize:TICK,padding:[0,0,0,51]}});
 option.title.push({text:'region',left:p.tx,top:p.ty,textAlign:'center',textVerticalAlign:'middle',padding:0,z:9,textStyle:{color:'#000',fontFamily:FONT,fontSize:TICK,fontWeight:'normal'}});
 option.title.push({text:p.lab,left:p.lx,top:p.ly,textAlign:'center',textVerticalAlign:'middle',padding:0,textStyle:{color:'#000',fontFamily:'Liberation Serif',fontSize:68,fontWeight:'bold'}});
 option.graphic.elements.push({type:'rect',z:7,silent:true,shape:{x:p.box[0],y:p.box[1],width:p.box[2],height:p.box[3],r:6},style:{fill:'rgba(255,255,255,0.8)',stroke:'#d3d3d3',lineWidth:3}});
 option.graphic.elements.push({type:'rect',z:7,silent:true,shape:{x:p.l,y:p.t,width:p.w,height:p.h},style:{fill:'none',stroke:'#000',lineWidth:3}});
});
const chart=echarts.init(document.getElementById('c'),null,{renderer:'canvas',width:3147,height:3395,devicePixelRatio:1});
chart.setOption(option);
</script></body></html>
